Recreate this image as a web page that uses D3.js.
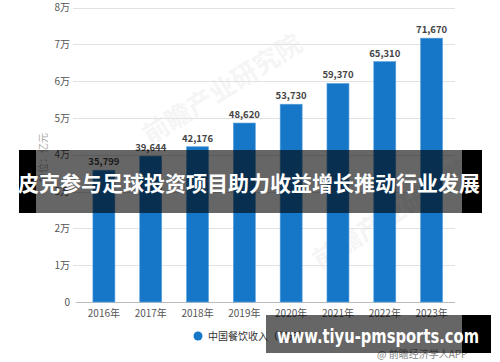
<!DOCTYPE html>
<html><head><meta charset="utf-8">
<script src="https://cdn.jsdelivr.net/npm/d3@7"></script>
<style>body{margin:0;background:#fff}svg{display:block}</style>
</head><body>
<script>
const years = ["2016年","2017年","2018年","2019年","2020年","2021年","2022年","2023年"];
const revenue = [35799, 39644, 42176, 48620, 53730, 59370, 65310, 71670];
const yTicks = [0, 10000, 20000, 30000, 40000, 50000, 60000, 70000, 80000];
const yTickLabels = ["0","1万","2万","3万","4万","5万","6万","7万","8万"];
const seriesName = "中国餐饮收入（亿元）";
const unitLabel = "单位：亿元";
const headline = "皮克参与足球投资项目助力收益增长推动行业发展";
const siteText = "www.tiyu-pmsports.com";
const sourceText = "@ 前瞻经济学人APP";

const W = 500, H = 362;
const font = "'Noto Sans CJK SC','Noto Sans',sans-serif";
const svg = d3.select("body").append("svg").attr("width", W).attr("height", H);

const x = d3.scaleBand().domain(years).range([80.5, 455]).paddingInner(0.53).paddingOuter(0.265);
const y = d3.scaleLinear().domain([0, 80000]).range([302, 7.5]);

// watermark
svg.append("text").attr("transform","translate(150,145) rotate(-32)")
  .attr("font-family",font).attr("font-size",26).attr("font-weight","bold")
  .attr("fill","#000").attr("opacity",0.035).text("前瞻产业研究院");
svg.append("text").attr("transform","translate(320,270) rotate(-32)")
  .attr("font-family",font).attr("font-size",26).attr("font-weight","bold")
  .attr("fill","#000").attr("opacity",0.035).text("前瞻产业研究院");

// gridlines
svg.append("g").selectAll("line").data(yTicks.slice(1)).join("line")
  .attr("x1",73).attr("x2",455).attr("y1",d=>Math.round(y(d))+0.5).attr("y2",d=>Math.round(y(d))+0.5)
  .attr("stroke","#e2e2e2").attr("stroke-width",1);

// y axis labels
const yAxis = d3.axisLeft(y).tickValues(yTicks).tickFormat((d,i)=>yTickLabels[i]).tickSize(0).tickPadding(0);
const gy = svg.append("g").attr("transform","translate(70,0)").call(yAxis);
gy.select(".domain").remove();
gy.selectAll("text").attr("font-family",font).attr("font-size",10).attr("fill","#555");

// x axis
const xAxis = d3.axisBottom(x).tickSize(0).tickPadding(7);
const gx = svg.append("g").attr("transform","translate(0,302.5)").call(xAxis);
gx.select(".domain").attr("stroke","#bbb").attr("d","M76,0H455");
gx.selectAll("text").attr("font-family",font).attr("font-size",10).attr("fill","#555");

// bars
svg.append("g").selectAll("rect").data(revenue).join("rect")
  .attr("x",(d,i)=>x(years[i])).attr("width",x.bandwidth())
  .attr("y",d=>y(d)).attr("height",d=>y(0)-y(d))
  .attr("fill","#1677c8").attr("stroke","#5ba3dc").attr("stroke-width",0.6);

// value labels
svg.append("g").selectAll("text").data(revenue).join("text")
  .attr("x",(d,i)=>x(years[i])+x.bandwidth()/2).attr("y",d=>y(d)-5)
  .attr("text-anchor","middle").attr("font-family",font).attr("font-size",9.5)
  .attr("font-weight","bold").attr("fill","#444").text(d=>d3.format(",")(d));

// unit label
svg.append("text").attr("transform","translate(47,158) rotate(-90)")
  .attr("text-anchor","middle").attr("font-family",font).attr("font-size",10)
  .attr("fill","#aaa").text(unitLabel);

// legend
svg.append("circle").attr("cx",198).attr("cy",336).attr("r",4.5).attr("fill","#1677c8");
svg.append("text").attr("x",208).attr("y",339.5).attr("font-family",font).attr("font-size",10)
  .attr("fill","#333").text(seriesName);

// source
svg.append("text").attr("x",377).attr("y",358).attr("font-family",font).attr("font-size",10)
  .attr("fill","#888").text(sourceText);

// headline overlay
svg.append("rect").attr("x",36).attr("y",150).attr("width",426).attr("height",63).attr("fill","#000").attr("opacity",0.6);
svg.append("rect").attr("x",19).attr("y",150).attr("width",17).attr("height",63).attr("fill","#000");
svg.append("rect").attr("x",462).attr("y",150).attr("width",20).attr("height",63).attr("fill","#000");
svg.append("text").attr("x",249).attr("y",191).attr("text-anchor","middle")
  .attr("font-family",font).attr("font-size",21).attr("font-weight","bold").attr("fill","#fff")
  .attr("textLength",462).attr("lengthAdjust","spacingAndGlyphs").text(headline);

// site overlay
svg.append("rect").attr("x",266).attr("y",315).attr("width",196).attr("height",38).attr("fill","#000").attr("opacity",0.6);
svg.append("rect").attr("x",462).attr("y",315).attr("width",29).attr("height",38).attr("fill","#000");
svg.append("text").attr("x",277).attr("y",343).attr("font-family","'DejaVu Sans',sans-serif")
  .attr("font-size",19).attr("font-weight","bold").attr("fill","#fff")
  .attr("textLength",202).attr("lengthAdjust","spacingAndGlyphs").text(siteText);
</script>
</body></html>
